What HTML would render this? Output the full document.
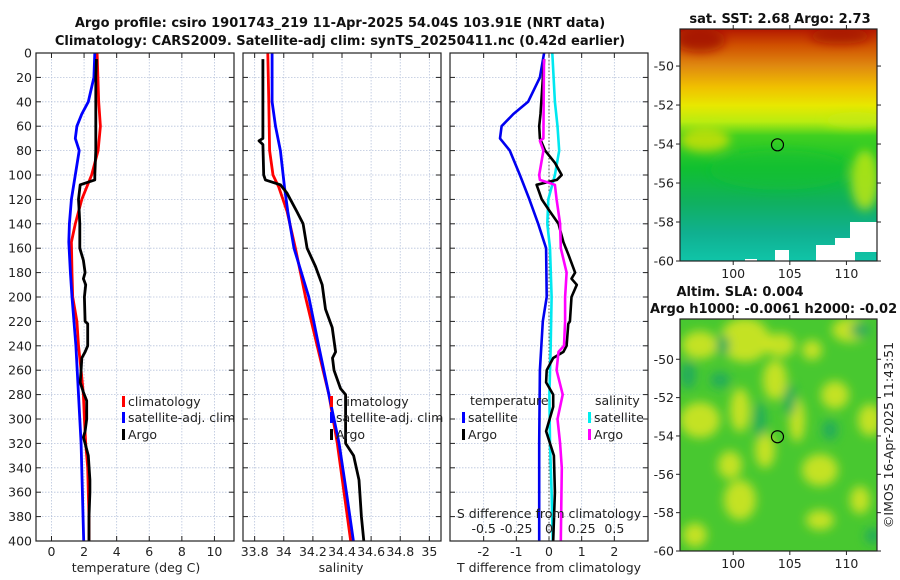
<!DOCTYPE html>
<html><head><meta charset="utf-8">
<style>
body{margin:0;background:#fff;}
svg{display:block;font-family:"DejaVu Sans","Liberation Sans",sans-serif;}
.t{font-size:12.5px;fill:#222;}
.b{font-size:13px;font-weight:bold;fill:#111;}
</style></head>
<body>
<svg id="fig" width="900" height="580" viewBox="0 0 900 580">
  <defs>
    <linearGradient id="sstg" x1="0" y1="0" x2="0" y2="1">
      <stop offset="0" stop-color="#b41800"/>
      <stop offset="0.07" stop-color="#d05000"/>
      <stop offset="0.16" stop-color="#e08a10"/>
      <stop offset="0.25" stop-color="#f0c000"/>
      <stop offset="0.33" stop-color="#e8e800"/>
      <stop offset="0.40" stop-color="#b8ec10"/>
      <stop offset="0.46" stop-color="#40d020"/>
      <stop offset="0.6" stop-color="#10c030"/>
      <stop offset="0.75" stop-color="#10b060"/>
      <stop offset="0.88" stop-color="#10b090"/>
      <stop offset="1" stop-color="#10c4a8"/>
    </linearGradient>
    <filter id="blur"><feGaussianBlur stdDeviation="5"/></filter>
    <clipPath id="clipTop"><rect x="680" y="29" width="197" height="232"/></clipPath>
    <clipPath id="clipBot"><rect x="680" y="319" width="197" height="232"/></clipPath>
  </defs>
  <text class="b" x="340" y="27" text-anchor="middle">Argo profile: csiro 1901743_219 11-Apr-2025 54.04S 103.91E (NRT data)</text>
  <text class="b" x="340" y="45" text-anchor="middle">Climatology: CARS2009. Satellite-adj clim: synTS_20250411.nc (0.42d earlier)</text>
  <g id="panels"></g>
  <g id="maps"></g>
  <text class="t" transform="translate(893,435) rotate(-90)" text-anchor="middle">©IMOS 16-Apr-2025 11:43:51</text>
</svg>
<script>
// ---------- data ----------
const climDepth = [0,20,40,60,80,100,120,140,155,180,200,220,240,260,280,300,320,340,360,380,400];
const climTemp  = [2.8,2.85,2.9,3.0,2.86,2.46,1.86,1.46,1.22,1.26,1.3,1.56,1.66,1.82,1.96,2.02,2.1,2.22,2.26,2.3,2.3];
const satDepth = [0,20,40,50,60,70,80,100,120,140,155,180,200,240,280,320,360,400];
const satTemp  = [2.66,2.6,2.26,1.86,1.56,1.46,1.7,1.46,1.22,1.1,1.06,1.16,1.26,1.5,1.66,1.82,1.9,1.98];
const argoDepth = [5,20,60,80,100,104,108,120,130,140,160,170,180,185,190,200,220,222,240,245,250,260,270,278,285,300,310,315,320,330,350,360,380,400];
const argoTemp  = [2.76,2.72,2.72,2.72,2.66,2.66,1.76,1.66,1.7,1.74,1.74,1.96,2.06,1.96,2.1,2.02,2.06,2.22,2.22,2.06,1.86,1.82,1.76,1.96,2.16,2.16,2.06,1.96,2.06,2.26,2.36,2.36,2.3,2.3];

const climSalDepth = [0,40,80,100,110,130,160,200,240,280,320,360,400];
const climSal      = [33.89,33.897,33.903,33.926,33.966,34.023,34.08,34.149,34.23,34.31,34.368,34.414,34.46];
const satSalDepth  = [0,40,60,80,110,130,160,200,240,280,320,360,400];
const satSal       = [33.92,33.92,33.943,33.977,34.005,34.028,34.07,34.172,34.24,34.31,34.38,34.43,34.478];
const argoSalDepth = [5,70,72,75,100,104,108,115,130,140,160,175,190,210,225,245,250,260,275,280,320,330,350,380,400];
const argoSal      = [33.857,33.857,33.83,33.857,33.862,33.874,33.977,34.023,34.09,34.133,34.16,34.218,34.264,34.287,34.333,34.356,34.335,34.345,34.39,34.425,34.425,34.48,34.517,34.533,34.55];

const satTDiffDepth = [0,20,40,50,60,70,80,100,120,140,160,200,220,260,320,400];
const satTDiff      = [-0.15,-0.28,-0.64,-1.09,-1.45,-1.5,-1.2,-0.89,-0.6,-0.33,-0.09,-0.07,-0.19,-0.28,-0.3,-0.3];
const argoTDiffDepth = [5,50,60,70,80,90,100,104,108,120,130,140,155,165,180,185,190,200,220,222,240,245,250,260,270,280,290,310,320,330,360,400];
const argoTDiff      = [-0.15,-0.26,-0.3,-0.28,-0.12,0.18,0.39,0.24,-0.38,-0.22,0.03,0.29,0.44,0.59,0.8,0.69,0.85,0.69,0.64,0.59,0.54,0.44,0.13,-0.07,-0.09,0.13,0.13,-0.09,0.03,0.15,0.18,0.13];
const satSDiffDepth = [0,40,60,80,100,120,140,160,200,240,280,320,360,400];
const satSDiff      = [0.025,0.045,0.065,0.078,0.045,-0.005,-0.013,0.008,0.02,0.013,0.003,0.008,0.02,0.028];
const argoSDiffDepth = [5,70,72,80,100,104,108,120,140,160,180,200,220,240,245,260,280,300,320,340,400];
const argoSDiff      = [-0.038,-0.043,-0.07,-0.043,-0.075,-0.07,0.045,0.058,0.085,0.09,0.135,0.123,0.123,0.115,0.073,0.058,0.105,0.065,0.085,0.098,0.09];

const depthTicks = [0,20,40,60,80,100,120,140,160,180,200,220,240,260,280,300,320,340,360,380,400];
const tempTicks = [0,2,4,6,8,10];
const salTicks = [33.8,34,34.2,34.4,34.6,34.8,35];
const salTickLabels = ["33.8","34","34.2","34.4","34.6","34.8","35"];
const tdTicks = [-2,-1,0,1,2];
const sdTicks = [-0.5,-0.25,0,0.25,0.5];
const sdTickLabels = ["-0.5","-0.25","0","0.25","0.5"];
const lonTicks = [100,105,110];
const latTicks = [-50,-52,-54,-56,-58,-60];
const floatLon = 103.91, floatLat = -54.04;

// ---------- helpers ----------
const NS = "http://www.w3.org/2000/svg";
function mk(tag, attrs, parent){const e=document.createElementNS(NS,tag);for(const k in attrs)e.setAttribute(k,attrs[k]);parent.appendChild(e);return e;}
const top0=53, bot0=541;
const yD = d => top0 + (d/400)*(bot0-top0);
const panels = document.getElementById('panels');

function panel(name, x0, x1, xmin, xmax, showY){
  const g = mk('g',{},panels);
  
  
  const xs = v => x0 + (v-xmin)/(xmax-xmin)*(x1-x0);
  const r = mk('rect',{x:x0,y:top0,width:x1-x0,height:bot0-top0,fill:'#fff'},g);
  
  
  depthTicks.forEach(d=>{
    mk('line',{x1:x0,x2:x1,y1:yD(d),y2:yD(d),stroke:'#b8c4dc','stroke-width':0.8,'stroke-dasharray':'1.5,1.5'},g);
    mk('line',{x1:x0,x2:x0+5,y1:yD(d),y2:yD(d),stroke:'#222'},g);
    mk('line',{x1:x1-5,x2:x1,y1:yD(d),y2:yD(d),stroke:'#222'},g);
    if(showY){
      const t=mk('text',{x:x0-4,y:yD(d)+4.5,'text-anchor':'end',class:'t'},g);t.textContent=d;
      
      
    }
  });
  return {g,xs,x0,x1};
}
function vgrid(p, ticks, labels, ly){
  ticks.forEach((v,i)=>{
    const x=p.xs(v);
    mk('line',{x1:x,x2:x,y1:top0,y2:bot0,stroke:'#b8c4dc','stroke-width':0.8,'stroke-dasharray':'1.5,1.5'},p.g);
    mk('line',{x1:x,x2:x,y1:bot0-5,y2:bot0,stroke:'#222'},p.g);
    mk('line',{x1:x,x2:x,y1:top0,y2:top0+5,stroke:'#222'},p.g);
    const t=mk('text',{x:x,y:ly,'text-anchor':'middle',class:'t'},p.g);t.textContent=labels?labels[i]:v;
    
    
  });
}
function line(p, xsf, depths, vals, color, name, w){
  const pts = depths.map((d,i)=>xsf(vals[i]).toFixed(1)+','+yD(d).toFixed(1)).join(' ');
  const e = mk('polyline',{points:pts,fill:'none',stroke:color,'stroke-width':w||2.8,'stroke-linejoin':'round'},p.g);
  
  
}
function frame(p){ mk('rect',{x:p.x0,y:top0,width:p.x1-p.x0,height:bot0-top0,fill:'none',stroke:'#222','stroke-width':1.2},p.g); }
function label(parent,x,y,txt,name,anchor){
  const t=mk('text',{x:x,y:y,'text-anchor':anchor||'start',class:'t'},parent);t.textContent=txt;
  
  
  return t;
}
function legItem(parent,x,y,color,txt,name){
  const g=mk('g',{},parent);
  
  
  mk('rect',{x:x,y:y-9,width:3,height:11,fill:color},g);
  label(g,x+6,y+1,txt,name+'-label');
}

// Panel 1: temperature
const p1 = panel('temperature-panel', 36, 234, -0.95, 11.2, true);
vgrid(p1, tempTicks, null, 556);
line(p1,p1.xs,climDepth,climTemp,'#f00','climatology-temperature-line');
line(p1,p1.xs,satDepth,satTemp,'#00f','satellite-temperature-line');
line(p1,p1.xs,argoDepth,argoTemp,'#000','argo-temperature-line');
legItem(p1.g,122,405,'#f00','climatology','legend-climatology');
legItem(p1.g,122,421,'#00f','satellite-adj. clim','legend-satellite');
legItem(p1.g,122,438,'#000','Argo','legend-argo');
frame(p1);
label(p1.g,136,572,'temperature (deg C)','x-axis-title-temperature','middle');

// Panel 2: salinity
const p2 = panel('salinity-panel', 243, 441, 33.72, 35.08, false);
vgrid(p2, salTicks, salTickLabels, 556);
line(p2,p2.xs,climSalDepth,climSal,'#f00','climatology-salinity-line');
line(p2,p2.xs,satSalDepth,satSal,'#00f','satellite-salinity-line');
line(p2,p2.xs,argoSalDepth,argoSal,'#000','argo-salinity-line');
legItem(p2.g,330,405,'#f00','climatology','legend-climatology-2');
legItem(p2.g,330,421,'#00f','satellite-adj. clim','legend-satellite-2');
legItem(p2.g,330,438,'#000','Argo','legend-argo-2');
frame(p2);
label(p2.g,341,572,'salinity','x-axis-title-salinity','middle');

// Panel 3: differences
const p3 = panel('difference-panel', 450, 648, -3.03, 3.03, false);
vgrid(p3, tdTicks, null, 556);
const xsS = v => p3.xs(v*4);
mk('line',{x1:p3.xs(0),x2:p3.xs(0),y1:top0,y2:bot0,stroke:'#555','stroke-width':1,'stroke-dasharray':'1.5,2'},p3.g);
line(p3,xsS,satSDiffDepth,satSDiff,'#00e8f0','satellite-salinity-diff-line',2.6);
line(p3,p3.xs,satTDiffDepth,satTDiff,'#0000f0','satellite-temperature-diff-line',2.6);
line(p3,p3.xs,argoTDiffDepth,argoTDiff,'#000','argo-temperature-diff-line',2.6);
line(p3,xsS,argoSDiffDepth,argoSDiff,'#f0f','argo-salinity-diff-line',2.6);
label(p3.g,470,405,'temperature','legend-title-temperature');
legItem(p3.g,462,421,'#00f','satellite','legend-t-satellite');
legItem(p3.g,462,438,'#000','Argo','legend-t-argo');
label(p3.g,595,405,'salinity','legend-title-salinity');
legItem(p3.g,588,421,'#0ee','satellite','legend-s-satellite');
legItem(p3.g,588,438,'#f0f','Argo','legend-s-argo');
label(p3.g,549,518,'S difference from climatology','s-axis-title','middle');
sdTicks.forEach((v,i)=>{ label(p3.g,xsS(v),533,sdTickLabels[i],'s-tick-label','middle'); });
frame(p3);
label(p3.g,549,572,'T difference from climatology','x-axis-title-tdiff','middle');

// ---------- maps ----------
const maps = document.getElementById('maps');
function mapAxes(name, y0, y1, latTop){
  const g=mk('g',{},maps);
  
  
  const x0=680,x1=877;
  const xl = v => x0 + (v-95.3)/(112.7-95.3)*(x1-x0);
  const yl = v => y1 - (v+60)/(latTop+60)*(y1-y0);
  return {g,x0,x1,y0,y1,xl,yl};
}
function mapFrame(m){
  mk('rect',{x:m.x0,y:m.y0,width:m.x1-m.x0,height:m.y1-m.y0,fill:'none',stroke:'#222','stroke-width':1.2},m.g);
  latTicks.forEach(v=>{
    const y=m.yl(v);
    mk('line',{x1:m.x0-4,x2:m.x0,y1:y,y2:y,stroke:'#222'},m.g);
    mk('line',{x1:m.x1,x2:m.x1+4,y1:y,y2:y,stroke:'#222'},m.g);
    label(m.g,m.x0-6,y+4.5,String(v),'lat-tick-label','end');
  });
  lonTicks.forEach(v=>{
    const x=m.xl(v);
    mk('line',{x1:x,x2:x,y1:m.y1,y2:m.y1+4,stroke:'#222'},m.g);
    mk('line',{x1:x,x2:x,y1:m.y0-4,y2:m.y0,stroke:'#222'},m.g);
    label(m.g,x,m.y1+17,String(v),'lon-tick-label','middle');
  });
  const c=mk('circle',{cx:m.xl(floatLon),cy:m.yl(floatLat),r:6,fill:'none',stroke:'#000','stroke-width':1.2},m.g);
  
  
}
// SST map
const m1 = mapAxes('sst-map', 29, 261, -48.1);
const sg=mk('g',{'clip-path':'url(#clipTop)'},m1.g);
const sr=mk('rect',{x:680,y:29,width:197,height:232,fill:'url(#sstg)'},sg);


const fb=mk('g',{filter:'url(#blur)'},sg);
mk('ellipse',{cx:705,cy:140,rx:25,ry:12,fill:'#e8e400',opacity:0.7},fb);
mk('ellipse',{cx:865,cy:180,rx:14,ry:30,fill:'#c8ea10',opacity:0.8},fb);
mk('ellipse',{cx:855,cy:120,rx:30,ry:8,fill:'#c8ea10',opacity:0.6},fb);
mk('ellipse',{cx:700,cy:40,rx:25,ry:12,fill:'#a00c00',opacity:0.8},fb);
mk('ellipse',{cx:840,cy:36,rx:30,ry:8,fill:'#a00c00',opacity:0.7},fb);
mk('ellipse',{cx:780,cy:170,rx:70,ry:20,fill:'#10c030',opacity:0.5},fb);
// missing data patches
[[850,222,27,30],[835,238,20,23],[816,245,20,16],[775,250,14,11],[745,259,12,3]].forEach(r=>mk('rect',{x:r[0],y:r[1],width:r[2],height:r[3],fill:'#fff'},sg));
mapFrame(m1);
label(m1.g,780,23,'sat. SST: 2.68 Argo: 2.73','sst-map-title','middle').setAttribute('class','b');

// SLA map
const m2 = mapAxes('sla-map', 319, 551, -47.9);
const lg=mk('g',{'clip-path':'url(#clipBot)'},m2.g);
const lr=mk('rect',{x:680,y:319,width:197,height:232,fill:'#48c830'},lg);


const lb=mk('g',{filter:'url(#blur)'},lg);
[[700,345,18,14],[745,340,25,22],[780,345,15,12],[775,380,12,20],[700,420,20,18],[740,410,10,22],[765,450,10,18],[797,420,8,22],[820,470,18,16],[870,420,12,16],[850,330,18,12],[835,395,14,14],[740,500,16,20],[695,535,12,12],[820,520,14,10],[730,465,12,14],[812,350,10,10],[860,500,10,14]].forEach(e=>mk('ellipse',{cx:e[0],cy:e[1],rx:e[2],ry:e[3],fill:'#e4e820',opacity:0.8},lb));
[[723,345,7,10],[688,375,8,14],[860,330,10,8],[873,536,8,8],[760,420,6,18],[790,400,6,16],[720,380,10,8],[830,430,8,10]].forEach(e=>mk('ellipse',{cx:e[0],cy:e[1],rx:e[2],ry:e[3],fill:'#20a860',opacity:0.9},lb));
mapFrame(m2);
label(m2.g,740,296,'Altim. SLA: 0.004','sla-map-title','middle').setAttribute('class','b');
label(m2.g,650,313,'Argo h1000: -0.0061 h2000: -0.02','sla-map-subtitle','start').setAttribute('class','b');
</script>
</body></html>
